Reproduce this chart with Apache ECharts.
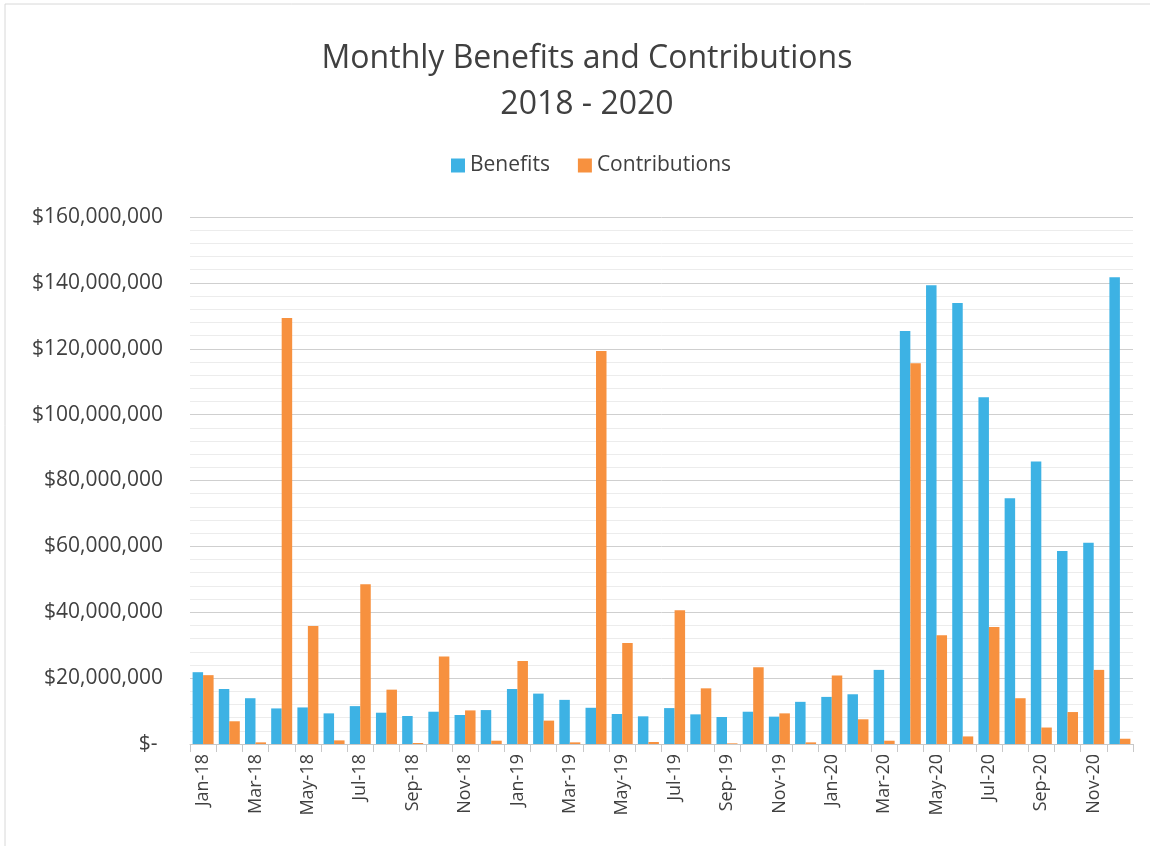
<!DOCTYPE html>
<html>
<head>
<meta charset="utf-8">
<script src="https://cdn.jsdelivr.net/npm/echarts@6/dist/echarts.min.js"></script>
<style>
html,body{margin:0;padding:0;background:#fff;}
#chart{width:1150px;height:846px;}
</style>
</head>
<body>
<div id="chart"></div>
<script>
var months = ["Jan-18","Feb-18","Mar-18","Apr-18","May-18","Jun-18","Jul-18","Aug-18","Sep-18","Oct-18","Nov-18","Dec-18",
"Jan-19","Feb-19","Mar-19","Apr-19","May-19","Jun-19","Jul-19","Aug-19","Sep-19","Oct-19","Nov-19","Dec-19",
"Jan-20","Feb-20","Mar-20","Apr-20","May-20","Jun-20","Jul-20","Aug-20","Sep-20","Oct-20","Nov-20","Dec-20"];

var benefits = [21.8,16.7,13.9,10.8,11.1,9.3,11.5,9.5,8.5,9.8,8.8,10.3,
16.7,15.3,13.4,11.0,9.1,8.4,10.9,9.0,8.2,9.8,8.3,12.8,
14.3,15.1,22.5,125.4,139.3,133.9,105.3,74.6,85.8,58.6,61.1,141.7];

var contributions = [20.9,6.9,0.5,129.3,35.8,1.1,48.5,16.5,0.3,26.6,10.2,1.0,
25.2,7.1,0.5,119.3,30.7,0.6,40.6,16.9,0.2,23.3,9.3,0.5,
20.8,7.5,1.0,115.6,33.0,2.3,35.5,13.9,5.0,9.7,22.5,1.6];

var MILLION = 1000000;
var yTicks = {min:0, max:160, interval:20};

var chart = echarts.init(document.getElementById('chart'), null, {renderer:'canvas'});
var font = '"Open Sans", "Noto Sans", sans-serif';
var txt = '#404040';

chart.setOption({
  backgroundColor:'#ffffff',
  animation:false,
  title:{
    text:'Monthly Benefits and Contributions\n2018 - 2020',
    left:582, textAlign:'center', top:31,
    textStyle:{fontFamily:font, fontSize:32, fontWeight:'normal', color:txt, lineHeight:46}
  },
  legend:{
    top:150, left:446,
    itemWidth:14, itemHeight:14, itemGap:28,
    icon:'rect',
    textStyle:{fontFamily:font, fontSize:21, color:txt}
  },
  graphic:[{
    type:'rect', shape:{x:5,y:4,width:1160,height:900},
    style:{fill:'none', stroke:'#d8d8d8', lineWidth:1}, silent:true
  }],
  grid:{left:190, right:17, top:217, bottom:102},
  xAxis:{
    type:'category',
    data:months,
    boundaryGap:true,
    axisLine:{show:true, lineStyle:{color:'#c8c8c8'}},
    axisTick:{show:true, alignWithLabel:false, interval:0, length:8, lineStyle:{color:'#c8c8c8'}},
    axisLabel:{interval:1, rotate:90, fontFamily:font, fontSize:18, color:txt, margin:10}
  },
  yAxis:{
    type:'value',
    min:yTicks.min*MILLION, max:yTicks.max*MILLION, interval:yTicks.interval*MILLION,
    axisLine:{show:false}, axisTick:{show:false},
    splitLine:{show:true, lineStyle:{color:'#cfcfcf', width:1}},
    minorTick:{show:false, splitNumber:5},
    minorSplitLine:{show:true, lineStyle:{color:'#ececec', width:1}},
    axisLabel:{
      fontFamily:font, fontSize:21, color:txt, margin:27,
      formatter:function(v){
        if(v===0) return '$- ';
        return '$' + v.toLocaleString('en-US');
      }
    }
  },
  series:[
    {
      name:'Benefits', type:'bar',
      data:benefits.map(function(v){return v*MILLION;}),
      barWidth:10.5, barGap:'0%',
      itemStyle:{color:'#3DB2E4'}
    },
    {
      name:'Contributions', type:'bar',
      data:contributions.map(function(v){return v*MILLION;}),
      barWidth:10.5, barGap:'0%',
      itemStyle:{color:'#F7913F'}
    }
  ]
});
</script>
</body>
</html>
